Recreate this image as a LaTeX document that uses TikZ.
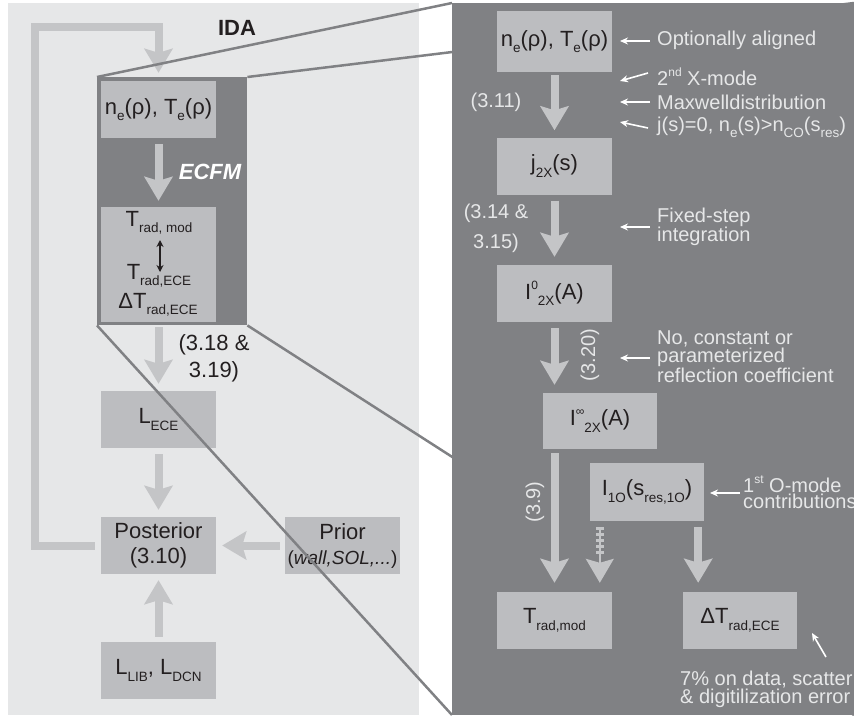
\documentclass[tikz,border=0pt]{standalone}
\usepackage{fontspec}
\setmainfont{Liberation Sans}
\usetikzlibrary{arrows.meta,calc}
\definecolor{lightbg}{HTML}{E6E7E8}
\definecolor{darkbg}{HTML}{808184}
\definecolor{boxc}{HTML}{BCBDC0}
\definecolor{arrc}{HTML}{C4C5C7}
\definecolor{txtc}{HTML}{231F20}
\definecolor{annc}{HTML}{E6E7E8}
\newcommand\lsb[1]{\raisebox{-0.3em}{\fontsize{13.5}{13.5}\selectfont #1}}
\newcommand\lsp[1]{\raisebox{0.45em}{\fontsize{12}{12}\selectfont #1}}
\newcommand\mainf{\fontsize{22}{25}\selectfont}
\newcommand\annf{\fontsize{20}{17}\selectfont}
\begin{document}
\begin{tikzpicture}[x=1pt,y=-1pt,
  every node/.style={text=txtc},
  box/.style={fill=boxc, inner sep=0pt, minimum width=115pt, minimum height=57pt, font=\mainf, align=center},
  bigarrow/.style={draw=arrc, line width=8pt, -{Stealth[length=24pt,width=28pt,inset=4pt]}},
  loopline/.style={draw=arrc, line width=8pt, line join=miter, -{Stealth[length=24pt,width=28pt,inset=4pt]}},
  zoomline/.style={draw=darkbg, line width=2.5pt},
  dblarrow/.style={draw=txtc, line width=1.3pt, {Stealth[length=7pt,width=7pt]}-{Stealth[length=7pt,width=7pt]}},
  annarrow/.style={draw=white, line width=1.6pt, -{Stealth[length=8pt,width=7pt]}},
  anntext/.style={text=annc, font=\annf, inner sep=0pt, anchor=west, align=left},
  eqlabel/.style={text=annc, font=\annf, inner sep=0pt, align=center}
]
\useasboundingbox (0,0) rectangle (854,715);
% left panel
\fill[lightbg] (8,3) rectangle (419,715);
\node[fill=darkbg, inner sep=0pt, minimum width=150pt, minimum height=248pt, anchor=north west] (ecfm) at (97,77) {};
\node[box] (lne) at (158.5,109.5) {n\lsb{e}(ρ), T\lsb{e}(ρ)};
\node[box, minimum height=115pt] (ltrad) at (158.5,264.5) {};
\node[anchor=base, font=\mainf, inner sep=0pt] (t1) at (159,226) {T\lsb{rad, mod}};
\node[anchor=base, font=\mainf, inner sep=0pt] (t2) at (159,279) {T\lsb{rad,ECE}};
\node[anchor=base, font=\mainf, inner sep=0pt] (t3) at (158,308) {ΔT\lsb{rad,ECE}};
\coordinate (da1) at (160,240);
\coordinate (da2) at (160,272);
\draw[dblarrow] (da1) -- (da2);
\node[text=white, font=\fontsize{22}{25}\selectfont\bfseries\itshape, inner sep=0pt] (ecfmlabel) at (210,172) {ECFM};
\node[box] (lece) at (158.5,419.5) {L\lsb{ECE}};
\node[box] (post) at (158.5,545.5) {Posterior\\(3.10)};
\node[box] (prior) at (342.5,545.5) {Prior\\{\fontsize{19}{19}\selectfont(\textit{wall,SOL,...})}};
\node[box] (llib) at (158.5,670.5) {L\lsb{LIB}, L\lsb{DCN}};
\node[font=\fontsize{22}{25}\selectfont\bfseries, inner sep=0pt] (ida) at (237,28) {IDA};
\node[font=\fontsize{22}{27}\selectfont, align=center, inner sep=0pt] (eq1) at (214,358) {(3.18 \&\\3.19)};
% left arrows
\coordinate (lp) at (35,27);
\draw[loopline] ($(post.west)+(-6,0)$) -| (lp) -| ($(lne.north)+(0,-8)$);
\draw[bigarrow] ($(lne.south)+(0,6)$) -- ($(ltrad.north)+(0,-6)$);
\coordinate (e1) at (ecfm.south -| lece.north);
\draw[bigarrow] ($(e1)+(0,2)$) -- ($(lece.north)+(0,-7)$);
\draw[bigarrow] ($(lece.south)+(0,6)$) -- ($(post.north)+(0,-7)$);
\draw[bigarrow] ($(prior.west)+(-5,0)$) -- ($(post.east)+(6,0)$);
\draw[bigarrow] ($(llib.north)+(0,-5)$) -- ($(post.south)+(0,6)$);
% zoom lines
\coordinate (rpnw) at (452,3);
\coordinate (rpne) at (854,3);
\coordinate (rpsw) at (452,715);
\coordinate (rpse) at (854,715);
\draw[zoomline] (ecfm.north west) -- (rpnw);
\draw[zoomline] (ecfm.north east) -- (rpne);
\draw[zoomline] (ecfm.south west) -- (rpsw);
\draw[zoomline] (ecfm.south east) -- (rpse);
% right panel
\node[fill=darkbg, inner sep=0pt, minimum width=402pt, minimum height=712pt, anchor=north west] (rp) at (rpnw) {};
\node[box, minimum height=61pt] (rne) at (554.5,41.5) {n\lsb{e}(ρ), T\lsb{e}(ρ)};
\node[box] (rj) at (554.5,166) {j\lsb{2X}(s)};
\node[box] (rI0) at (554.5,293.5) {I\lsp{0}\lsb{2X}(A)};
\node[box, minimum width=114pt, minimum height=56pt] (rIinf) at (600,421) {I\lsp{∞}\lsb{2X}(A)};
\node[box, minimum width=114pt, minimum height=58pt] (rI1O) at (647,492) {I\lsb{1O}(s\lsb{res,1O})};
\node[box] (rTrad) at (554.5,620.5) {T\lsb{rad,mod}};
\node[box, minimum width=114pt] (rdT) at (740,620.5) {ΔT\lsb{rad,ECE}};
% right arrows
\draw[bigarrow] ($(rne.south)+(0,3)$) -- ($(rj.north)+(0,-7)$);
\draw[bigarrow] ($(rj.south)+(0,6)$) -- ($(rI0.north)+(0,-8)$);
\coordinate (r1) at (rI0.south |- rIinf.north);
\draw[bigarrow] ($(rI0.south)+(0,6)$) -- ($(r1)+(0,-8)$);
\coordinate (r2) at (rTrad.north |- rIinf.south);
\draw[bigarrow] ($(r2)+(0,4)$) -- ($(rTrad.north)+(0,-9)$);
\coordinate (s1) at ($(rI1O.south west)+(10,6)$);
\coordinate (s2) at ($(s1 |- rTrad.north)+(0,-9)$);
\draw[draw=arrc, line width=1.5pt, -{Stealth[length=24pt,width=28pt,inset=4pt]}] (s1) -- (s2);
\draw[draw=arrc, line width=8pt, dash pattern=on 3pt off 3pt] (s1) -- ($(s2)+(0,-26)$);
\coordinate (d1) at ($(rI1O.south east)+(-6,6)$);
\coordinate (d2) at ($(d1 |- rdT.north)+(0,-9)$);
\draw[bigarrow] (d1) -- (d2);
% equation labels on dark
\node[eqlabel] (q311) at (496,102) {(3.11)};
\node[eqlabel, font=\fontsize{20}{30}\selectfont] (q314) at (496,228) {(3.14 \&\\3.15)};
\node[eqlabel, rotate=90] (q320) at (590,355) {(3.20)};
\node[eqlabel, rotate=90] (q39) at (535,502) {(3.9)};
% annotations
\coordinate (a1s) at (650,41); \coordinate (a1e) at (620,41);
\coordinate (a2s) at (648,73); \coordinate (a2e) at (620,81);
\coordinate (a3s) at (650,102); \coordinate (a3e) at (620,102);
\coordinate (a4s) at (648,128); \coordinate (a4e) at (620,122);
\coordinate (a5s) at (650,227); \coordinate (a5e) at (620,227);
\coordinate (a6s) at (650,358); \coordinate (a6e) at (620,358);
\coordinate (a7s) at (740,493); \coordinate (a7e) at (710,493);
\coordinate (a8s) at (826,657); \coordinate (a8e) at (812,633);
\foreach \i in {1,...,8} {\draw[annarrow] (a\i s) -- (a\i e);}
\node[anntext] (n1) at (657,40) {Optionally aligned};
\node[anntext] (n2) at (657,77) {2\lsp{nd} X-mode};
\node[anntext] (n3) at (657,102) {Maxwelldistribution};
\node[anntext] (n4) at (657,127) {j(s)=0, n\lsb{e}(s)>n\lsb{CO}(s\lsb{res})};
\node[anntext, font=\fontsize{20}{18}\selectfont] (n5) at (657,227) {Fixed-step\\integration};
\node[anntext] (n6) at (657,357) {No, constant or\\parameterized\\reflection coefficient};
\node[anntext, font=\fontsize{20}{16}\selectfont] (n7) at (743,492) {1\lsp{st} O-mode\\contributions};
\node[anntext] (n8) at (680,689) {7\% on data, scatter\\\& digitilization error};
\end{tikzpicture}
\end{document}
